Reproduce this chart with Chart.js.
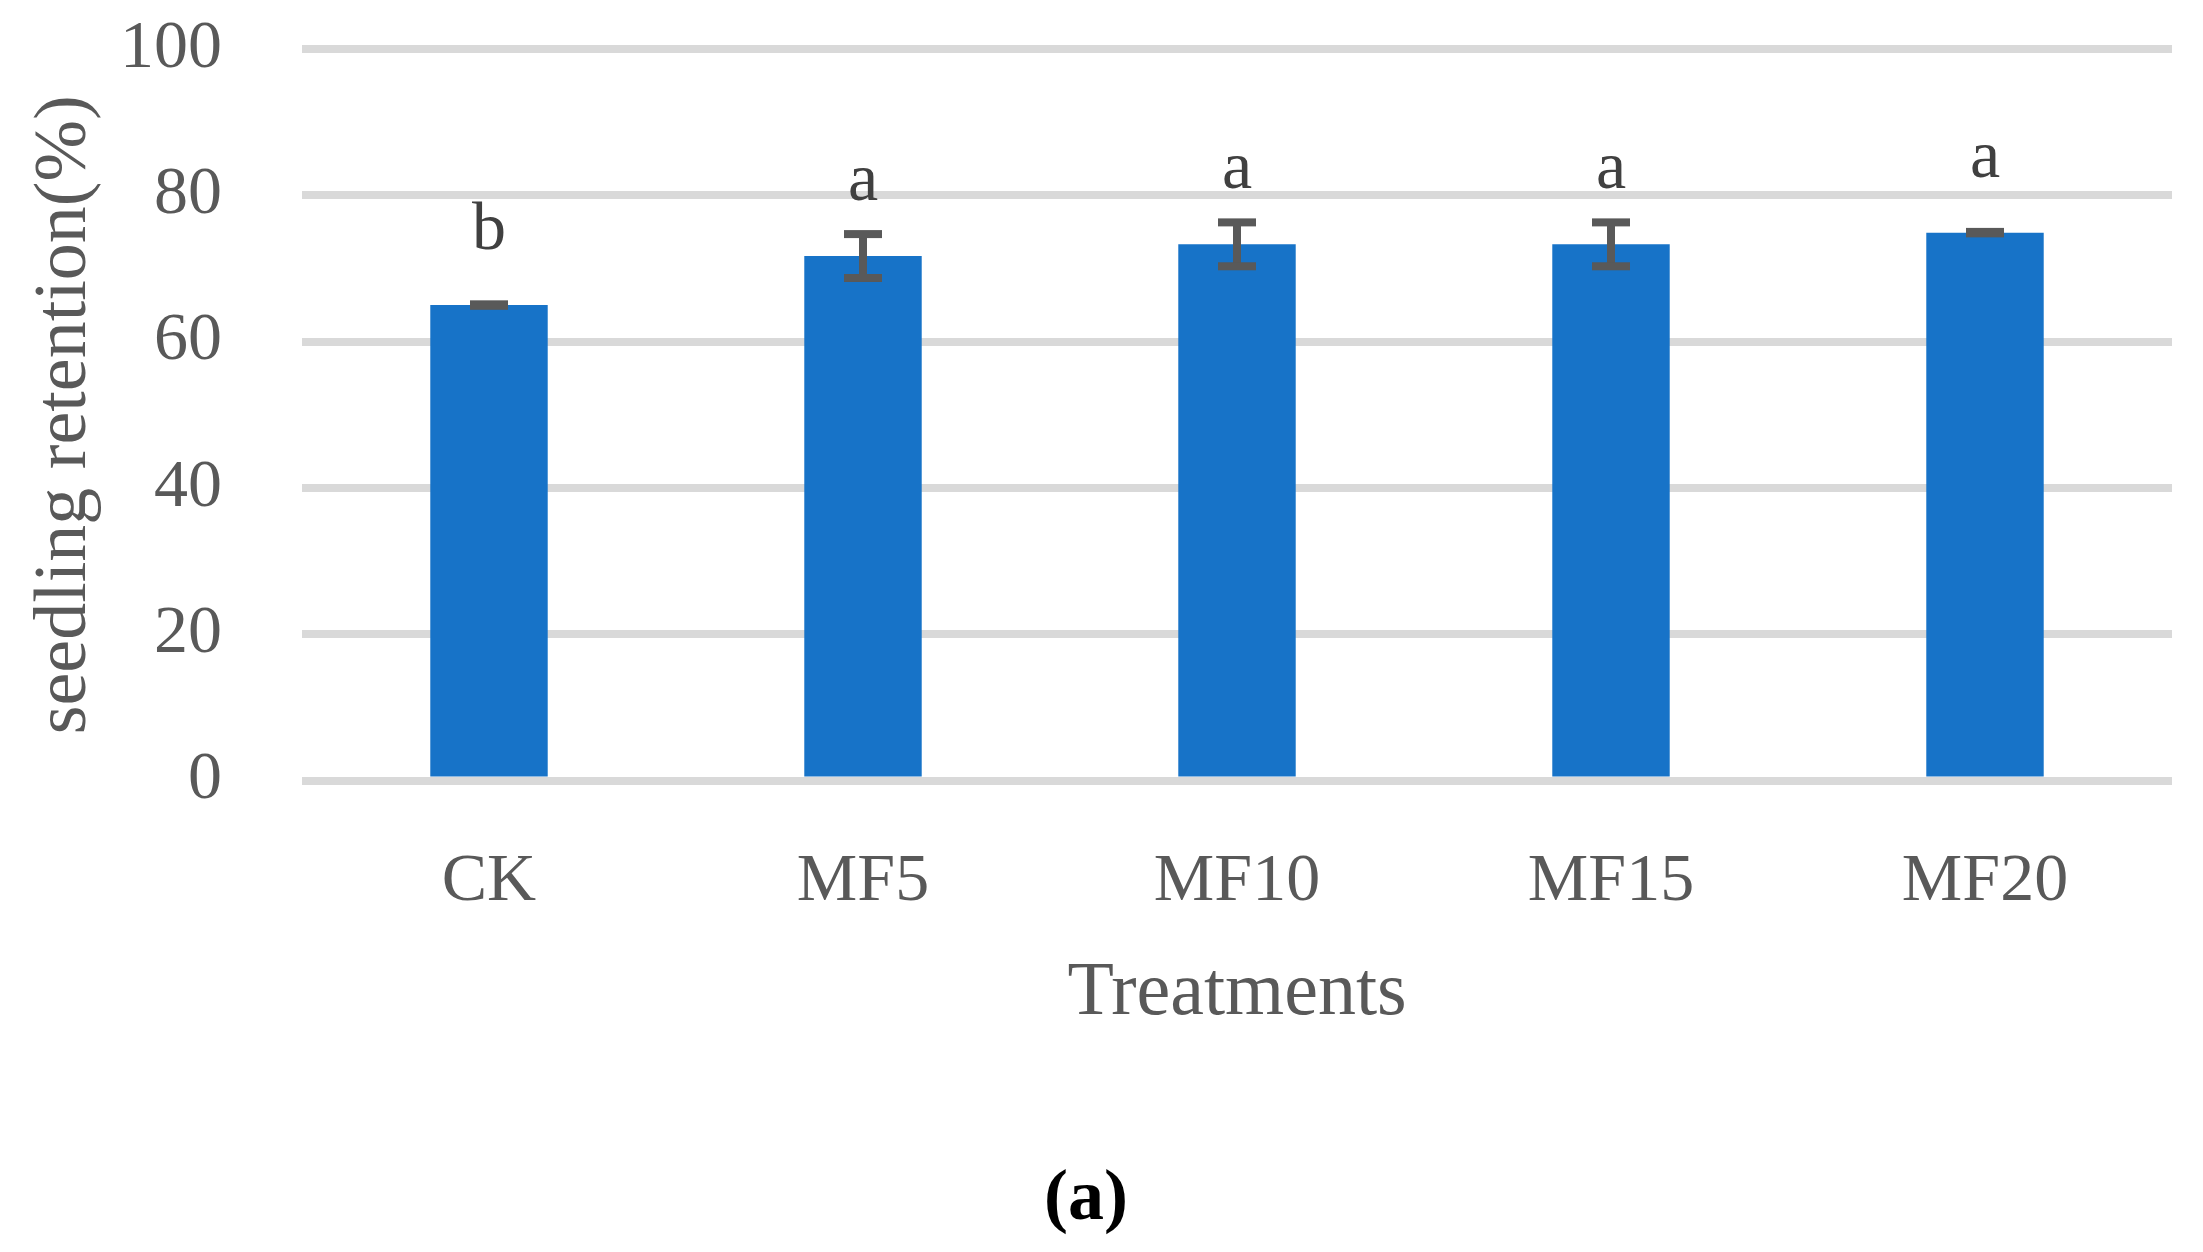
<!DOCTYPE html>
<html lang="en">
<head>
    <meta charset="UTF-8">
    <title>Seedling retention</title>
    <script src="https://cdn.jsdelivr.net/npm/chart.js"></script>
    <style>
        html, body { margin: 0; padding: 0; background: #fff; }
        #wrap { width: 2203px; height: 1252px; }
    </style>
</head>
<body>
    <div id="wrap"><canvas id="myChart"></canvas></div>
    <script>
        // values
        const treatments = ['CK', 'MF5', 'MF10', 'MF15', 'MF20'];
        const retention = [65.0, 71.7, 73.3, 73.3, 74.9];
        const stdErr = [0.1, 3.0, 3.0, 3.0, 0.1];
        const letters = ['b', 'a', 'a', 'a', 'a'];

        const serif = "'Liberation Serif', 'Times New Roman', serif";
        const grey = '#595959';

        // error bars + significance letters
        const extras = {
            id: 'extras',
            afterDatasetsDraw(chart) {
                const ctx = chart.ctx;
                const y = chart.scales.y;
                const bars = chart.getDatasetMeta(0).data;
                ctx.save();
                bars.forEach((bar, i) => {
                    const top = y.getPixelForValue(retention[i] + stdErr[i]);
                    const bot = y.getPixelForValue(retention[i] - stdErr[i]);
                    ctx.fillStyle = grey;
                    ctx.fillRect(bar.x - 4, top, 8, bot - top);
                    ctx.fillRect(bar.x - 19, top - 4, 38, 8);
                    ctx.fillRect(bar.x - 19, bot - 4, 38, 8);

                    ctx.fillStyle = '#404040';
                    ctx.font = '68px ' + serif;
                    ctx.textAlign = 'center';
                    ctx.textBaseline = 'alphabetic';
                    ctx.fillText(letters[i], bar.x, bar.y - 56);
                });
                ctx.restore();
            }
        };

        const ctx = document.getElementById('myChart').getContext('2d');
        new Chart(ctx, {
            type: 'bar',
            data: {
                labels: treatments,
                datasets: [{
                    data: retention,
                    backgroundColor: '#1773C8',
                    borderWidth: 0,
                    categoryPercentage: 1.0,
                    barPercentage: 0.314
                }]
            },
            options: {
                responsive: true,
                maintainAspectRatio: false,
                animation: false,
                devicePixelRatio: 1,
                layout: { padding: { top: 49, right: 31, left: 0, bottom: 0 } },
                plugins: {
                    legend: { display: false },
                    tooltip: { enabled: false },
                    title: {
                        display: true,
                        position: 'bottom',
                        text: '(a)',
                        color: '#000',
                        font: { family: serif, size: 72, weight: 'bold' },
                        padding: { top: 118, bottom: 8 }
                    }
                },
                scales: {
                    x: {
                        grid: { display: false },
                        border: { display: false },
                        ticks: { color: grey, font: { family: serif, size: 68 }, padding: 53 },
                        title: {
                            display: true,
                            text: 'Treatments',
                            color: grey,
                            font: { family: serif, size: 76 },
                            padding: { top: 0, bottom: 0 }
                        },
                        afterFit: (scale) => { scale.height = 259; }
                    },
                    y: {
                        min: 0,
                        max: 100,
                        ticks: { stepSize: 20, color: grey, font: { family: serif, size: 68 }, padding: 0 },
                        // invisible tick marks give the gap between labels and plot
                        grid: { color: '#D9D9D9', lineWidth: 8, drawTicks: true, tickLength: 80, tickColor: 'rgba(0,0,0,0)' },
                        border: { display: false },
                        title: {
                            display: true,
                            text: 'seedling retention(%)',
                            color: grey,
                            font: { family: serif, size: 74 },
                            padding: { top: 21, bottom: 0 }
                        },
                        afterFit: (scale) => { scale.width = 302; }
                    }
                }
            },
            plugins: [extras]
        });
    </script>
</body>
</html>
